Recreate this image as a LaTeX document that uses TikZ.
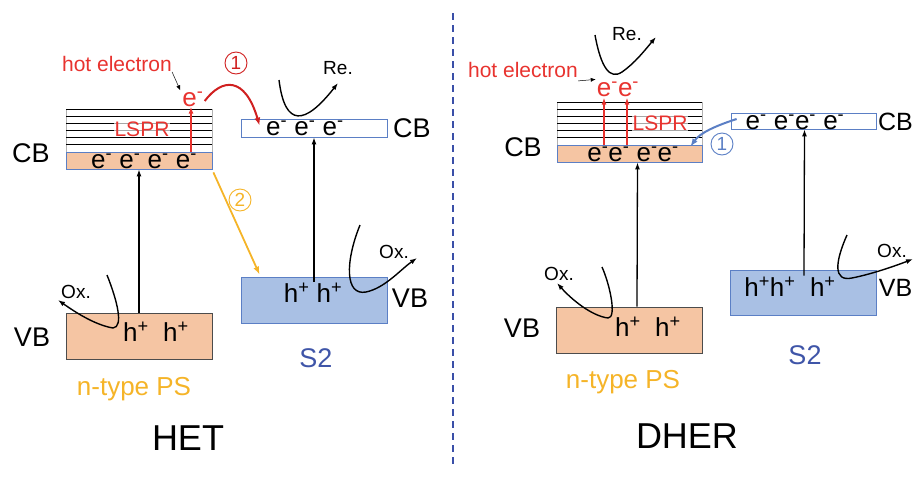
\documentclass[tikz,border=0pt]{standalone}
\usepackage{fontspec}
\setmainfont{Liberation Sans}
\usetikzlibrary{arrows.meta}
\definecolor{peach}{HTML}{F5C5A3}
\definecolor{bluefill}{HTML}{A9C0E4}
\definecolor{bandblue}{HTML}{5B7FC5}
\definecolor{hotred}{HTML}{E8332F}
\definecolor{darkred}{HTML}{D02020}
\definecolor{ylw}{HTML}{F5B428}
\definecolor{stwo}{HTML}{3F55A8}
\definecolor{dashblue}{HTML}{3A4FA8}
\newcommand{\fsz}[1]{\fontsize{#1}{#1}\selectfont}
\newcommand{\esup}{e\textsuperscript{-}}
\newcommand{\hsup}{h\textsuperscript{+}}
\tikzset{
  band/.style={draw=bandblue,line width=0.8pt,inner sep=0pt},
  peachband/.style={band,fill=peach},
  vbpeach/.style={draw=black!70,fill=peach,line width=0.8pt,inner sep=0pt},
  vbblue/.style={draw=bandblue,fill=bluefill,line width=0.8pt,inner sep=0pt},
  lab/.style={inner sep=0pt,font=\fsz{27}},
  edgelab/.style={inner sep=0pt,font=\fsz{25}},
  eq/.style={inner sep=0pt,font=\fsz{26}},
  small/.style={inner sep=0pt,font=\fsz{19}},
  exc/.style={-{Latex[length=7pt,width=5pt]},line width=1.3pt},
  curvarr/.style={-{Latex[length=7pt,width=5pt]},line width=1.4pt},
  redarr/.style={-{Latex[length=7pt,width=5pt]},line width=1.3pt,draw=hotred},
  metal/.style={line width=1pt},
  num/.style={circle,draw,line width=0.9pt,minimum size=22pt,inner sep=0pt,font=\fsz{19}}
}
\begin{document}
\begin{tikzpicture}[x=1pt,y=-1pt]
\useasboundingbox (0,0) rectangle (914,480);
% ---------------- HET (left) ----------------
\draw[gray!60,line width=0.4pt] (66,109) rectangle (212,152);
\foreach \yy in {109,116,123,130,137,144}{\draw[metal] (66,\yy) -- (212,\yy);}
\node[peachband,minimum width=146pt,minimum height=17pt] (LcbP) at (139,160.5) {};
\node[eq] (Lce) at (144,161) {\esup{} \esup{} \esup{} \esup};
\node[inner sep=1pt,fill=white,fill opacity=0.65,text opacity=1,text=hotred,font=\fsz{21}] (Llspr) at (142,129) {LSPR};
\node[lab] (Lcblab) at (31,153) {CB};
\node[inner sep=0pt,text=hotred,font=\fsz{26}] (Lhot) at (193,99) {\esup};
\node[inner sep=0pt,text=hotred,font=\fsz{21}] (Lhotlab) at (117,64) {hot electron};
\draw[-{Latex[length=5pt,width=4pt]},line width=0.5pt] (Lhotlab.south east) -- ([xshift=-2pt,yshift=1pt]Lhot.north west);
\draw[redarr] ([xshift=52pt]LcbP.north) -- ([xshift=-2pt]Lhot.south);
% S2 bands
\node[band,fill=white,minimum width=146pt,minimum height=18pt] (S2cb) at (314,128) {};
\node[eq] (S2ce) at (305,128) {\esup{} \esup{} \esup};
\node[lab] (S2cblab) at (412,128) {CB};
\node[vbblue,minimum width=146pt,minimum height=46pt] (S2vb) at (314,300) {};
\node[eq] (S2vh) at (313,293) {\hsup{} \hsup};
\node[lab] (S2vblab) at (410,298) {VB};
\node[vbpeach,minimum width=146pt,minimum height=46pt] (Lvb) at (139,336) {};
\node[eq] (Lvh) at (156,332) {\hsup{}\ \ \hsup};
\node[lab] (Lvblab) at (32,337) {VB};
% excitation arrows
\draw[exc] (Lvb.north) -- (LcbP.south);
\draw[exc] ([yshift=-5pt]S2vb.north) -- (S2cb.south);
% process 1 (red)
\node[num,draw=darkred,text=darkred] (L1) at (236,63) {1};
\draw[-{Latex[length=8pt,width=6pt]},line width=2pt,draw=darkred] ([xshift=1pt,yshift=-2pt]Lhot.east) .. controls (222,78) and (245,76) .. ([xshift=19pt,yshift=-7pt]S2cb.north west);
% process 2 (yellow)
\node[num,draw=ylw,text=ylw] (L2) at (240,200) {2};
\draw[-{Latex[length=8pt,width=6pt]},line width=1.8pt,draw=ylw] ([xshift=1pt,yshift=-3pt]LcbP.south east) -- ([xshift=19pt,yshift=2pt]S2vb.north west);
% Re. curve
\node[small] (Lre) at (338,68) {Re.};
\coordinate (LreS) at (279,80);
\coordinate (LreE) at (338,83);
\draw[curvarr] (LreS) .. controls (285,128) and (305,125) .. (LreE);
% Ox. curves
\node[small] (Lox) at (76,292) {Ox.};
\coordinate (LoxS) at (107,275);
\coordinate (LoxE) at (58,300);
\draw[curvarr] (LoxS) .. controls (117,300) and (124,327) .. (113,328) .. controls (95,325) and (75,312) .. (LoxE);
\node[small] (S2ox) at (394,252) {Ox.};
\coordinate (S2oxS) at (360,225);
\coordinate (S2oxE) at (417,258);
\draw[curvarr] (S2oxS) .. controls (345,262) and (345,296) .. (366,292) .. controls (385,288) and (400,270) .. (S2oxE);
% captions
\node[inner sep=0pt,text=stwo,font=\fsz{27}] (S2name) at (316,358) {S2};
\node[inner sep=0pt,text=ylw,font=\fsz{26}] (Lname) at (134,389) {n-type PS};
\node[inner sep=0pt,font=\fsz{36}] (HET) at (188,438) {HET};
% divider
\coordinate (dtop) at (453,13);
\coordinate (dbot) at (453,466);
\draw[dashblue,line width=1.5pt,dash pattern=on 7pt off 5pt] (dtop) -- (dbot);
% ---------------- DHER (right) ----------------
\draw[gray!60,line width=0.4pt] (557,102) rectangle (702,145);
\foreach \yy in {102,109,116,123,130,137}{\draw[metal] (557,\yy) -- (702,\yy);}
\node[peachband,minimum width=145pt,minimum height=17pt] (RcbP) at (629.5,153.5) {};
\node[eq] (Rce) at (633,154) {\esup{}\esup{} \esup{}\esup};
\node[inner sep=1pt,fill=white,fill opacity=0.65,text opacity=1,text=hotred,font=\fsz{21}] (Rlspr) at (660,123) {LSPR};
\node[lab] (Rcblab) at (523,147) {CB};
\node[inner sep=0pt,text=hotred,font=\fsz{26}] (Rhot) at (618,89) {\esup\esup};
\node[inner sep=0pt,text=hotred,font=\fsz{21}] (Rhotlab) at (523,70) {hot electron};
\draw[-{Latex[length=5pt,width=4pt]},line width=0.5pt] ([yshift=-3pt]Rhotlab.south east) -- ([xshift=-1pt,yshift=2pt]Rhot.north west);
\draw[redarr] ([xshift=-25.5pt]RcbP.north) -- ([xshift=-25.5pt,yshift=-1pt]RcbP.north |- Rhot.south);
\draw[redarr] ([xshift=-2.5pt]RcbP.north) -- ([xshift=-2.5pt,yshift=-1pt]RcbP.north |- Rhot.south);
\node[band,fill=white,minimum width=145pt,minimum height=16pt] (R2cb) at (803.5,121) {};
\node[eq] (R2ce) at (795,122) {\esup{} \esup\esup{} \esup};
\node[edgelab] (R2cblab) at (895.5,122) {CB};
\node[vbblue,minimum width=146pt,minimum height=45pt] (R2vb) at (803,292.5) {};
\node[eq] (R2vh) at (790,287) {\hsup\hsup{}\ \ \hsup};
\node[edgelab] (R2vblab) at (895.5,288) {VB};
\node[vbpeach,minimum width=146pt,minimum height=46pt] (Rvb) at (629,330) {};
\node[eq] (Rvh) at (648,327) {\hsup{}\ \ \hsup};
\node[lab] (Rvblab) at (522,328) {VB};
\draw[exc] ([xshift=8pt]Rvb.north) -- ([xshift=8pt]RcbP.south);
\draw[exc] ([xshift=1pt,yshift=-6pt]R2vb.north) -- ([xshift=1pt]R2cb.south);
% process 1 (blue)
\node[num,draw=bandblue,text=bandblue] (R1) at (722,144) {1};
\draw[-{Latex[length=8pt,width=6pt]},line width=2pt,draw=bandblue] ([xshift=6pt,yshift=2pt]R2cb.west) .. controls (715,126) and (700,133) .. ([xshift=-12pt,yshift=-2pt]RcbP.north east);
% Re. curve
\node[small] (Rre) at (627,34) {Re.};
\coordinate (RreS) at (595,35);
\coordinate (RreE) at (656,37);
\draw[curvarr] (RreS) .. controls (601,68) and (610,80) .. (622,72) .. controls (635,63) and (645,50) .. (RreE);
% Ox. curves
\node[small] (Rox) at (559,274) {Ox.};
\coordinate (RoxS) at (602,267);
\coordinate (RoxE) at (557,283);
\draw[curvarr] (RoxS) .. controls (610,285) and (617,318) .. (608,318) .. controls (592,316) and (572,300) .. (RoxE);
\node[small] (R2ox) at (892,251) {Ox.};
\coordinate (R2oxS) at (847,235);
\coordinate (R2oxE) at (913,259);
\draw[curvarr] (R2oxS) .. controls (835,262) and (833,282) .. (852,278) .. controls (872,274) and (895,266) .. (R2oxE);
% captions
\node[inner sep=0pt,text=stwo,font=\fsz{27}] (R2name) at (805,355) {S2};
\node[inner sep=0pt,text=ylw,font=\fsz{26}] (Rname) at (623,382) {n-type PS};
\node[inner sep=0pt,font=\fsz{36}] (DHER) at (687,436) {DHER};
\end{tikzpicture}
\end{document}
